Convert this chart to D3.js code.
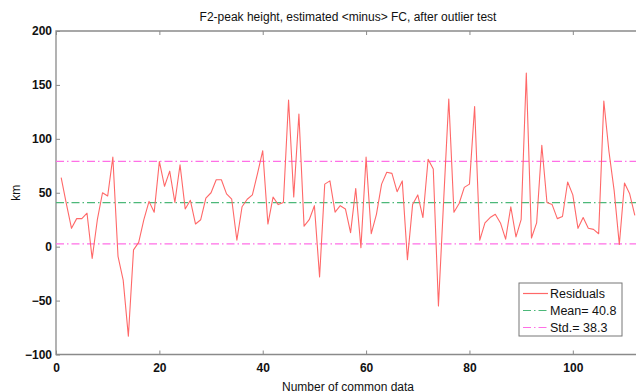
<!DOCTYPE html>
<html>
<head>
<meta charset="utf-8">
<script src="https://cdn.jsdelivr.net/npm/d3@7"></script>
<style>
  body { margin: 0; background: #fff; overflow: hidden; }
  svg { display: block; font-family: "Liberation Sans", Arial, Helvetica, sans-serif; }
</style>
</head>
<body>
<div id="chart"></div>
<script>
// residuals, one per common data point (1..112)
var residuals = [
  64, 40, 17, 26, 26, 31, -11, 25, 50, 47,
  83, -9, -31, -83, -3, 4, 25, 42, 32, 79,
  56, 70, 41, 76, 35, 43, 21, 25, 45, 50,
  62, 62, 49, 44, 6, 37, 44, 48, 68, 89,
  21, 46, 39, 41, 136, 46, 123, 19, 25, 38,
  -28, 58, 61, 32, 38, 35, 13, 54, -1, 83,
  12, 30, 58, 69, 68, 51, 61, -12, 39, 48,
  27, 81, 72, -55, 42, 137, 32, 40, 55, 58,
  130, 6, 22, 27, 30, 22, 7, 37, 9, 25,
  161, 8, 22, 94, 41, 39, 26, 28, 60, 48,
  17, 27, 17, 16, 12, 135, 88, 52, 2, 59,
  49, 29
];
var meanValue = 40.8;
var stdValue = 38.3;
var xDomain = [0, 113];
var yDomain = [-100, 200];
var xTicks = [0, 20, 40, 60, 80, 100];
var yTicks = [-100, -50, 0, 50, 100, 150, 200];
var legendLabels = ["Residuals", "Mean= " + meanValue, "Std.= " + stdValue];

(function() {

var data = residuals.map(function(v, i) { return { n: i + 1, r: v }; });

var W = 636, H = 391;
var margin = { left: 56, right: 640, top: 31, bottom: 354.5 };

var svg = d3.select("#chart").append("svg")
  .attr("width", W)
  .attr("height", H);

var x = d3.scaleLinear().domain(xDomain).range([margin.left, margin.right]);
var y = d3.scaleLinear().domain(yDomain).range([margin.bottom, margin.top]);

svg.append("defs").append("clipPath")
  .attr("id", "plot-clip")
  .append("rect")
  .attr("x", margin.left).attr("y", margin.top)
  .attr("width", margin.right - margin.left).attr("height", margin.bottom - margin.top);

// axes with inward ticks
var axisColor = "#8a8a8a";

var xAxis = d3.axisBottom(x).tickValues(xTicks).tickSizeInner(-4).tickSizeOuter(0).tickPadding(8);
var xAxisTop = d3.axisTop(x).tickValues(xTicks).tickSizeInner(-4).tickSizeOuter(0).tickFormat("");
var yAxis = d3.axisLeft(y).tickValues(yTicks).tickSizeInner(-4).tickSizeOuter(0).tickPadding(4);

function styleAxis(g) {
  g.select(".domain").remove();
  g.selectAll(".tick line").attr("stroke", axisColor);
  g.selectAll(".tick text")
    .attr("fill", "#111")
    .style("font-size", "12px")
    .style("font-weight", "bold")
    .style("font-family", "'Liberation Sans', Arial, sans-serif");
}

svg.append("g").attr("transform", "translate(0," + margin.bottom + ")").call(xAxis).call(styleAxis)
  .selectAll(".tick text").attr("dy", "0.75em");
svg.append("g").attr("transform", "translate(0," + margin.top + ")").call(xAxisTop).call(styleAxis);
svg.append("g").attr("transform", "translate(" + margin.left + ",0)").call(yAxis).call(styleAxis);

// plot frame
svg.append("path")
  .attr("d", "M" + margin.right + "," + margin.top + "H" + margin.left + "V" + margin.bottom + "H" + margin.right)
  .attr("fill", "none")
  .attr("stroke", axisColor)
  .attr("stroke-width", 1.3);

var plot = svg.append("g").attr("clip-path", "url(#plot-clip)");

var dashDot = "8,3,1.5,3";

// std lines
[meanValue + stdValue, meanValue - stdValue].forEach(function(v) {
  plot.append("line")
    .attr("x1", margin.left).attr("x2", margin.right)
    .attr("y1", y(v)).attr("y2", y(v))
    .attr("stroke", "#ff6fe6")
    .attr("stroke-width", 1.2)
    .attr("stroke-dasharray", dashDot);
});

// mean line
plot.append("line")
  .attr("x1", margin.left).attr("x2", margin.right)
  .attr("y1", y(meanValue)).attr("y2", y(meanValue))
  .attr("stroke", "#4cb879")
  .attr("stroke-width", 1.2)
  .attr("stroke-dasharray", dashDot);

// residuals
var line = d3.line()
  .x(function(d) { return x(d.n); })
  .y(function(d) { return y(d.r); });

plot.append("path")
  .datum(data)
  .attr("d", line)
  .attr("fill", "none")
  .attr("stroke", "#ff6868")
  .attr("stroke-width", 1.1)
  .attr("stroke-linejoin", "round");

// title and labels
svg.append("text")
  .attr("x", (margin.left + margin.right) / 2)
  .attr("y", 21)
  .attr("text-anchor", "middle")
  .style("font-size", "12px")
  .attr("fill", "#111")
  .text("F2-peak height, estimated <minus> FC, after outlier test");

svg.append("text")
  .attr("x", (margin.left + margin.right) / 2)
  .attr("y", 391)
  .attr("text-anchor", "middle")
  .style("font-size", "12px")
  .attr("fill", "#111")
  .text("Number of common data");

svg.append("text")
  .attr("transform", "translate(20," + ((margin.top + margin.bottom) / 2) + ") rotate(-90)")
  .attr("text-anchor", "middle")
  .style("font-size", "12px")
  .attr("fill", "#111")
  .text("km");

// legend
var legend = svg.append("g").attr("transform", "translate(519,283)");
legend.append("rect")
  .attr("width", 103).attr("height", 53)
  .attr("fill", "#fff")
  .attr("stroke", "#777")
  .attr("stroke-width", 1);

var legendStyles = [
  { color: "#ff6868", dash: null },
  { color: "#4cb879", dash: dashDot },
  { color: "#ff6fe6", dash: dashDot }
];

legendLabels.forEach(function(label, i) {
  var ly = 10.5 + i * 17;
  legend.append("line")
    .attr("x1", 4).attr("x2", 29)
    .attr("y1", ly).attr("y2", ly)
    .attr("stroke", legendStyles[i].color)
    .attr("stroke-width", 1.2)
    .attr("stroke-dasharray", legendStyles[i].dash);
  legend.append("text")
    .attr("x", 31)
    .attr("y", ly + 4.5)
    .style("font-size", "12.5px")
    .attr("fill", "#111")
    .text(label);
});

})();
</script>
</body>
</html>
